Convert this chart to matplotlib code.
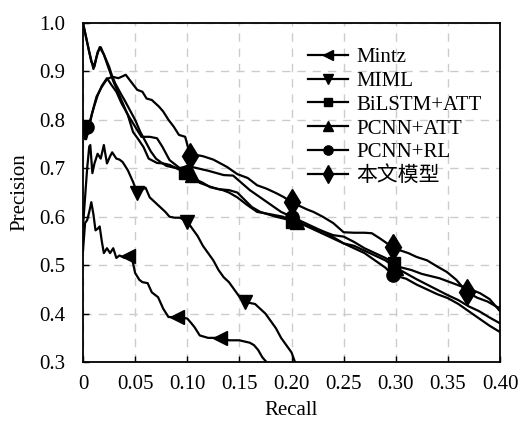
import matplotlib
matplotlib.use('Agg')
import matplotlib.pyplot as plt

plt.rcParams['font.family'] = ['Liberation Serif', 'Noto Sans CJK SC']

# ---- data ----
mintz_x = [0, 0.002, 0.004, 0.006, 0.008, 0.010, 0.012, 0.014, 0.016, 0.018, 0.020, 0.023, 0.026, 0.029,
           0.032, 0.035, 0.040, 0.043, 0.046, 0.048, 0.050, 0.054, 0.057, 0.062, 0.066, 0.072, 0.077, 0.082,
           0.090, 0.100, 0.104, 0.107, 0.112, 0.120, 0.131, 0.140, 0.150, 0.160, 0.164, 0.168, 0.172, 0.176, 0.180]
mintz_y = [0.53, 0.587, 0.593, 0.61, 0.63, 0.605, 0.572, 0.575, 0.58, 0.55, 0.525, 0.535, 0.525, 0.535,
           0.515, 0.52, 0.515, 0.52, 0.52, 0.504, 0.484, 0.47, 0.465, 0.463, 0.444, 0.434, 0.41, 0.393,
           0.393, 0.39, 0.38, 0.372, 0.355, 0.35, 0.35, 0.345, 0.345, 0.34, 0.335, 0.325, 0.31, 0.30, 0.285]
mintz_marks = [0.043, 0.090, 0.131]

miml_x = [0, 0.002, 0.004, 0.006, 0.007, 0.009, 0.011, 0.014, 0.017, 0.020, 0.023, 0.026, 0.028, 0.032,
          0.035, 0.038, 0.043, 0.048, 0.052, 0.056, 0.060, 0.064, 0.069, 0.074, 0.079, 0.083, 0.088, 0.093,
          0.100, 0.105, 0.110, 0.115, 0.120, 0.125, 0.130, 0.135, 0.140, 0.145, 0.150, 0.155, 0.160, 0.165,
          0.170, 0.175, 0.180, 0.185, 0.190, 0.195, 0.200, 0.205]
miml_y = [0.58, 0.64, 0.70, 0.745, 0.748, 0.69, 0.71, 0.73, 0.72, 0.748, 0.71, 0.725, 0.733, 0.72,
          0.718, 0.713, 0.696, 0.672, 0.65, 0.655, 0.66, 0.64, 0.63, 0.62, 0.61, 0.60, 0.598, 0.598,
          0.59, 0.575, 0.56, 0.54, 0.525, 0.51, 0.49, 0.475, 0.465, 0.45, 0.435, 0.425, 0.422, 0.42,
          0.41, 0.40, 0.385, 0.37, 0.35, 0.335, 0.32, 0.29]
miml_marks = [0.052, 0.100, 0.155]

bilstm_x = [0, 0.003, 0.006, 0.010, 0.013, 0.016, 0.020, 0.024, 0.029, 0.033, 0.038, 0.043, 0.048, 0.053,
            0.058, 0.063, 0.071, 0.077, 0.083, 0.090, 0.098, 0.105, 0.115, 0.122, 0.134, 0.140, 0.148,
            0.157, 0.167, 0.180, 0.192, 0.200, 0.210, 0.220, 0.230, 0.240, 0.250, 0.260, 0.270, 0.280,
            0.290, 0.298, 0.304, 0.315, 0.325, 0.342, 0.352, 0.362, 0.372, 0.381, 0.390, 0.400]
bilstm_y = [1.0, 0.97, 0.94, 0.905, 0.93, 0.95, 0.935, 0.91, 0.88, 0.86, 0.835, 0.81, 0.775, 0.76,
            0.744, 0.72, 0.711, 0.71, 0.707, 0.70, 0.69, 0.68, 0.67, 0.661, 0.655, 0.65, 0.64,
            0.625, 0.61, 0.605, 0.60, 0.59, 0.585, 0.577, 0.57, 0.562, 0.559, 0.548, 0.535, 0.525,
            0.515, 0.505, 0.496, 0.49, 0.482, 0.473, 0.465, 0.457, 0.45, 0.442, 0.43, 0.405]
bilstm_marks = [0.098, 0.200, 0.298]

pcnnatt_x = [0, 0.004, 0.008, 0.011, 0.014, 0.017, 0.021, 0.025, 0.028, 0.031, 0.036, 0.040, 0.045,
             0.050, 0.055, 0.060, 0.065, 0.070, 0.075, 0.080, 0.090, 0.098, 0.105, 0.112, 0.122, 0.130,
             0.140, 0.148, 0.155, 0.162, 0.170, 0.185, 0.195, 0.205, 0.215, 0.225, 0.235, 0.250, 0.260,
             0.270, 0.280, 0.290, 0.300, 0.310, 0.320, 0.330, 0.340, 0.350, 0.360, 0.370, 0.380, 0.390, 0.400]
pcnnatt_y = [1.0, 0.96, 0.92, 0.91, 0.94, 0.95, 0.93, 0.91, 0.89, 0.875, 0.855, 0.84, 0.82,
             0.80, 0.775, 0.755, 0.735, 0.72, 0.712, 0.705, 0.70, 0.695, 0.686, 0.67, 0.662, 0.657,
             0.655, 0.65, 0.635, 0.62, 0.61, 0.60, 0.595, 0.59, 0.58, 0.57, 0.56, 0.545, 0.54,
             0.53, 0.52, 0.51, 0.495, 0.483, 0.471, 0.46, 0.449, 0.438, 0.428, 0.415, 0.405, 0.392, 0.38]
pcnnatt_marks = [0.105, 0.205, 0.300]

pcnnrl_x = [0, 0.002, 0.004, 0.007, 0.011, 0.014, 0.018, 0.023, 0.027, 0.032, 0.037, 0.044, 0.050,
            0.056, 0.064, 0.071, 0.076, 0.083, 0.093, 0.100, 0.110, 0.120, 0.135, 0.144, 0.152, 0.160,
            0.170, 0.180, 0.190, 0.200, 0.210, 0.220, 0.230, 0.240, 0.250, 0.260, 0.270, 0.280, 0.290,
            0.297, 0.310, 0.320, 0.330, 0.340, 0.350, 0.360, 0.370, 0.380, 0.390, 0.400]
pcnnrl_y = [0.80, 0.76, 0.785, 0.80, 0.83, 0.85, 0.87, 0.886, 0.873, 0.858, 0.834, 0.807, 0.786,
            0.765, 0.765, 0.762, 0.745, 0.717, 0.70, 0.705, 0.70, 0.695, 0.686, 0.685, 0.67, 0.655,
            0.64, 0.625, 0.61, 0.60, 0.59, 0.58, 0.57, 0.558, 0.545, 0.535, 0.525, 0.51, 0.495,
            0.48, 0.472, 0.46, 0.45, 0.44, 0.432, 0.42, 0.405, 0.39, 0.375, 0.362]
pcnnrl_marks = [0.004, 0.200, 0.297]

ours_x = [0, 0.003, 0.0055, 0.0086, 0.013, 0.018, 0.023, 0.028, 0.034, 0.041, 0.047, 0.052, 0.057,
          0.061, 0.066, 0.073, 0.077, 0.082, 0.087, 0.092, 0.098, 0.103, 0.110, 0.115, 0.125, 0.138,
          0.148, 0.158, 0.167, 0.176, 0.186, 0.193, 0.200, 0.208, 0.215, 0.221, 0.230, 0.240, 0.250,
          0.260, 0.270, 0.277, 0.285, 0.297, 0.305, 0.312, 0.320, 0.330, 0.340, 0.349, 0.358, 0.368,
          0.378, 0.388, 0.397, 0.400]
ours_y = [0.78, 0.76, 0.779, 0.813, 0.848, 0.868, 0.884, 0.889, 0.886, 0.893, 0.876, 0.862, 0.858,
          0.844, 0.841, 0.827, 0.817, 0.80, 0.786, 0.769, 0.765, 0.725, 0.727, 0.725, 0.718, 0.703,
          0.688, 0.68, 0.665, 0.658, 0.648, 0.64, 0.63, 0.622, 0.615, 0.61, 0.60, 0.587, 0.568,
          0.567, 0.567, 0.566, 0.555, 0.537, 0.53, 0.525, 0.517, 0.51, 0.497, 0.486, 0.47, 0.445,
          0.433, 0.425, 0.414, 0.412]
ours_marks = [0.103, 0.200, 0.297, 0.368]

series = [
    ('Mintz', mintz_x, mintz_y, mintz_marks, '<', 10.5),
    ('MIML', miml_x, miml_y, miml_marks, 'v', 10.5),
    ('BiLSTM+ATT', bilstm_x, bilstm_y, bilstm_marks, 's', 9),
    ('PCNN+ATT', pcnnatt_x, pcnnatt_y, pcnnatt_marks, '^', 10.5),
    ('PCNN+RL', pcnnrl_x, pcnnrl_y, pcnnrl_marks, 'o', 9.5),
    ('本文模型', ours_x, ours_y, ours_marks, 'd', 13),
]

fig = plt.figure(figsize=(5.2, 4.25), dpi=100)
ax = fig.add_axes([0.1596, 0.148, 0.802, 0.798])

for name, xs, ys, marks, mk, ms in series:
    idx = [xs.index(m) for m in marks]
    ax.plot(xs, ys, color='black', lw=1.6, marker=mk, markersize=ms,
            markevery=idx, label=name)

ax.set_xlim(0, 0.40)
ax.set_ylim(0.3, 1.0)
ax.set_xticks([0, 0.05, 0.10, 0.15, 0.20, 0.25, 0.30, 0.35, 0.40])
ax.set_xticklabels(['0', '0.05', '0.10', '0.15', '0.20', '0.25', '0.30', '0.35', '0.40'])
ax.set_yticks([0.3, 0.4, 0.5, 0.6, 0.7, 0.8, 0.9, 1.0])
ax.set_yticklabels(['0.3', '0.4', '0.5', '0.6', '0.7', '0.8', '0.9', '1.0'])
ax.tick_params(axis='x', direction='in', length=4, width=1, labelsize=15, pad=9)
ax.tick_params(axis='y', direction='in', length=4, width=1, labelsize=15, pad=13)
ax.grid(True, color='#cccccc', linestyle=(0, (6, 5)), lw=1)
ax.set_axisbelow(True)
for sp in ax.spines.values():
    sp.set_linewidth(1.3)

ax.set_xlabel('Recall', fontsize=15, labelpad=5)
ax.set_ylabel('Precision', fontsize=15, labelpad=7)

ax.legend(loc='upper right', bbox_to_anchor=(0.99, 0.97), frameon=False, fontsize=15,
          handlelength=1.9, handletextpad=0.4, labelspacing=0.2, markerscale=0.7,
          borderaxespad=0.3)

fig.savefig('out.png', dpi=100)
